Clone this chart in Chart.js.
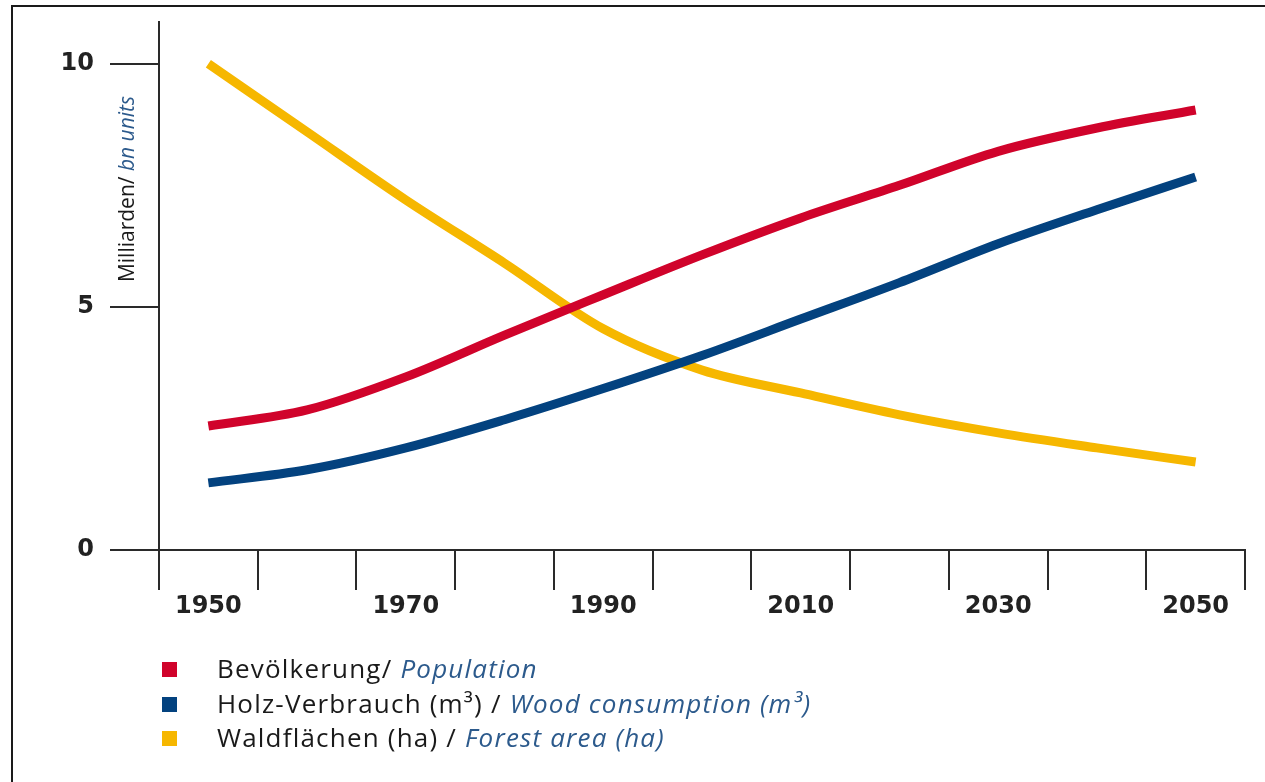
<!DOCTYPE html>
<html>
<head>
<meta charset="utf-8">
<script src="https://cdn.jsdelivr.net/npm/chart.js@4.4.1/dist/chart.umd.min.js"></script>
<style>
  html, body { margin: 0; padding: 0; background: #fff; }
  #wrap { position: relative; width: 1265px; height: 782px; overflow: hidden; }
  #frame { position: absolute; left: 11px; top: 5px; right: -10px; bottom: -10px;
           border-top: 2px solid #1a1a1a; border-left: 2px solid #1a1a1a; }
  #chart { position: absolute; left: 0; top: 0; }
  #legend { position: absolute; left: 162px; top: 651px; font-family: "Open Sans", sans-serif;
            font-size: 26px; letter-spacing: 1.2px; color: #1a1a1a; line-height: 34.5px; }
  #legend .sw { display: inline-block; width: 15px; height: 15px; margin-right: 40px; vertical-align: 1px; }
  #legend i { color: #2c5a8c; }
</style>
</head>
<body>
<div id="wrap">
  <div id="frame"></div>
  <canvas id="chart" width="1265" height="782"></canvas>
  <div id="legend"></div>
</div>
<script>
// --- Daten ---
const jahre = ['1950','1960','1970','1980','1990','2000','2010','2020','2030','2040','2050'];
const bevoelkerung = [2.55, 2.88, 3.56, 4.42, 5.25, 6.07, 6.83, 7.5, 8.2, 8.68, 9.05];
const holzVerbrauch = [1.38, 1.65, 2.1, 2.68, 3.32, 4.0, 4.75, 5.5, 6.3, 7.0, 7.67];
const waldflaechen = [10.0, 8.6, 7.2, 5.9, 4.55, 3.7, 3.23, 2.78, 2.41, 2.1, 1.81];
const yTicks = [0, 5, 10];

const serien = [
  { de: 'Bevölkerung/ ', en: 'Population', data: bevoelkerung, color: '#d0032b' },
  { de: 'Holz-Verbrauch (m³) / ', en: 'Wood consumption (m³)', data: holzVerbrauch, color: '#03427f' },
  { de: 'Waldflächen (ha) / ', en: 'Forest area (ha)', data: waldflaechen, color: '#f6b700' }
];

// Legende als HTML (gemischte Schriftstile)
document.getElementById('legend').innerHTML = serien.map(s =>
  `<div><span class="sw" style="background:${s.color}"></span>${s.de}<i>${s.en}</i></div>`
).join('');

// y-Achsentitel mit zwei Stilen
const achsenTitel = {
  id: 'achsenTitel',
  afterDraw(chart) {
    const ctx = chart.ctx;
    const teil1 = 'Milliarden/ ', teil2 = 'bn units';
    const f1 = '21px "Open Sans", sans-serif', f2 = 'italic 21px "Open Sans", sans-serif';
    ctx.save();
    ctx.translate(128, 189);
    ctx.rotate(-Math.PI / 2);
    ctx.textBaseline = 'middle';
    ctx.font = f1;
    const w1 = ctx.measureText(teil1).width;
    ctx.font = f2;
    const w2 = ctx.measureText(teil2).width;
    const x = -(w1 + w2) / 2;
    ctx.font = f1;
    ctx.fillStyle = '#1a1a1a';
    ctx.fillText(teil1, x, 0);
    ctx.font = f2;
    ctx.fillStyle = '#2c5a8c';
    ctx.fillText(teil2, x + w1, 0);
    ctx.restore();
  }
};

new Chart(document.getElementById('chart').getContext('2d'), {
  type: 'line',
  data: {
    labels: jahre,
    datasets: serien.map(s => ({
      label: s.de + s.en, data: s.data,
      borderColor: s.color, backgroundColor: s.color,
      borderWidth: 9, pointRadius: 0, cubicInterpolationMode: 'monotone', fill: false
    }))
  },
  options: {
    responsive: false, animation: false,
    layout: { padding: { left: 20, top: 22, right: 20, bottom: 0 } },
    plugins: { legend: { display: false }, tooltip: { enabled: false } },
    scales: {
      x: {
        offset: true,
        grid: { offset: true, drawOnChartArea: false, tickLength: 40, color: '#2a2a2a', lineWidth: 2 },
        border: { display: true, color: '#2a2a2a', width: 2 },
        ticks: {
          autoSkip: false, maxRotation: 0, padding: 2, color: '#222',
          font: { family: 'DejaVu Sans', weight: 'bold', size: 24 },
          callback: (v, i) => (i % 2 === 0 ? jahre[i] : '')
        },
        afterFit: s => { s.height = 232; }
      },
      y: {
        min: 0, max: 10.86,
        afterBuildTicks: s => { s.ticks = yTicks.map(v => ({ value: v })); },
        grid: { drawOnChartArea: false, tickLength: 49, color: '#2a2a2a', lineWidth: 2 },
        border: { display: true, color: '#2a2a2a', width: 2 },
        ticks: { padding: 16, color: '#222', font: { family: 'DejaVu Sans', weight: 'bold', size: 24 } },
        afterFit: s => { s.width = 139; s.paddingTop = 0; s.paddingBottom = 0; }
      }
    }
  },
  plugins: [achsenTitel]
});
</script>
</body>
</html>
